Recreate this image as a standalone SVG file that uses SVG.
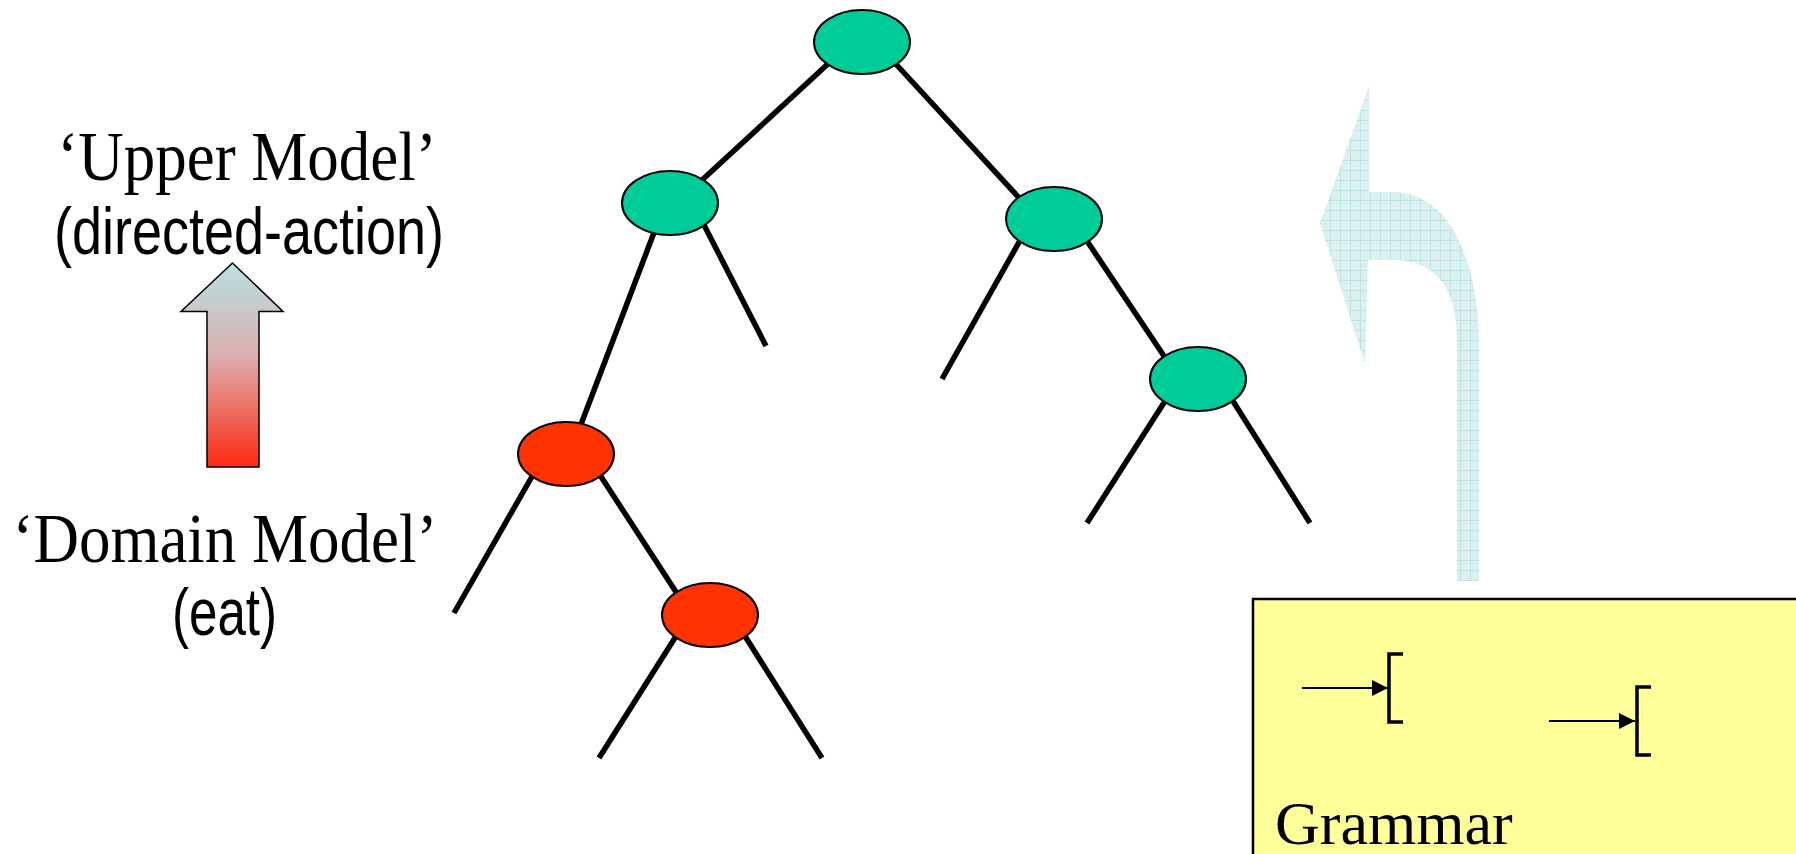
<svg xmlns="http://www.w3.org/2000/svg" width="1796" height="854" viewBox="0 0 1796 854">
  <defs>
    <linearGradient id="upGrad" x1="0" y1="0" x2="0" y2="1">
      <stop offset="0" stop-color="#b8e0e2"/>
      <stop offset="0.45" stop-color="#dcb0b0"/>
      <stop offset="1" stop-color="#ff2a10"/>
    </linearGradient>
    <pattern id="grid" width="10" height="10" patternUnits="userSpaceOnUse">
      <rect width="10" height="10" fill="#dcf0f0"/>
      <path d="M0 0.5 H10 M0.5 0 V10" stroke="#bfe2e2" stroke-width="1" fill="none"/>
    </pattern>
    <marker id="ah" viewBox="0 0 10 10" refX="10" refY="5" markerWidth="8" markerHeight="8" markerUnits="strokeWidth" orient="auto">
      <path d="M0 0 L10 5 L0 10 Z" fill="#000"/>
    </marker>
  </defs>
  <style>
    .edge { stroke: #000; stroke-width: 5.5; fill: none; }
    .green { fill: #00cc99; stroke: #000; stroke-width: 2; }
    .red { fill: #ff3300; stroke: #000; stroke-width: 2; }
    .serif { font-family: "Liberation Serif", "Times New Roman", serif; fill: #000; }
    .sans { font-family: "Liberation Sans", Arial, sans-serif; fill: #000; }
    .gline { stroke: #000; stroke-width: 2; fill: none; }
    .bracket { stroke: #000; stroke-width: 3.5; fill: none; }
  </style>
  <rect width="1796" height="854" fill="#fff"/>

  <g id="labels">
    <text class="serif" transform="translate(247,180) scale(1,1.12)" font-size="63" text-anchor="middle">‘Upper Model’</text>
    <text class="sans" transform="translate(54,254) scale(1,1.05)" font-size="63" textLength="390" lengthAdjust="spacingAndGlyphs">(directed-action)</text>
    <text class="serif" transform="translate(225,562) scale(1,1.12)" font-size="63" text-anchor="middle">‘Domain Model’</text>
    <text class="sans" transform="translate(172,635) scale(1,1.05)" font-size="63" textLength="105" lengthAdjust="spacingAndGlyphs">(eat)</text>
  </g>

  <g id="up-arrow">
    <polygon points="232.5,263 283,311.5 259,311.5 259,467 207,467 207,311.5 181,311.5" fill="url(#upGrad)" stroke="#000" stroke-width="1.5"/>
  </g>

  <g id="curved-arrow">
    <path d="M1457 581 L1457 340 C1457 290 1437 260 1393 260 L1368 260 L1365 364 L1320 223 L1369 86 L1369 192 L1393 192 C1450 192 1479 262 1479 345 L1479 581 Z" fill="url(#grid)"/>
  </g>

  <g id="connectors">
    <line class="edge" x1="830" y1="62" x2="701" y2="181"/>
    <line class="edge" x1="894" y1="62" x2="1022" y2="201"/>
    <line class="edge" x1="655" y1="230" x2="580" y2="427"/>
    <line class="edge" x1="703" y1="223" x2="766" y2="346"/>
    <line class="edge" x1="1022" y1="237" x2="942" y2="379"/>
    <line class="edge" x1="1085" y1="238" x2="1166" y2="359"/>
    <line class="edge" x1="1167" y1="398" x2="1087" y2="523"/>
    <line class="edge" x1="1231" y1="398" x2="1310" y2="523"/>
    <line class="edge" x1="534" y1="473" x2="454" y2="613"/>
    <line class="edge" x1="598" y1="472" x2="678" y2="595"/>
    <line class="edge" x1="678" y1="633" x2="599" y2="758"/>
    <line class="edge" x1="743" y1="633" x2="822" y2="758"/>
  </g>

  <g id="node-top"><ellipse class="green" cx="862" cy="42" rx="48" ry="32"/></g>
  <g id="node-left"><ellipse class="green" cx="670" cy="203" rx="48" ry="32"/></g>
  <g id="node-right"><ellipse class="green" cx="1054" cy="219" rx="48" ry="32"/></g>
  <g id="node-right-right"><ellipse class="green" cx="1198" cy="379" rx="48" ry="32"/></g>
  <g id="node-domain-1"><ellipse class="red" cx="566" cy="454" rx="48" ry="32"/></g>
  <g id="node-domain-2"><ellipse class="red" cx="710" cy="615" rx="48" ry="32"/></g>

  <g id="grammar">
    <rect x="1253" y="599" width="600" height="300" fill="#ffff99" stroke="#000" stroke-width="2.5"/>
    <line class="gline" x1="1302" y1="688" x2="1388" y2="688" marker-end="url(#ah)"/>
    <path class="bracket" d="M1403 654 H1389 V722 H1403"/>
    <line class="gline" x1="1549" y1="721" x2="1635" y2="721" marker-end="url(#ah)"/>
    <path class="bracket" d="M1651 687 H1637 V755 H1651"/>
    <text class="serif" x="1275" y="844" font-size="62">Grammar</text>
  </g>
</svg>
